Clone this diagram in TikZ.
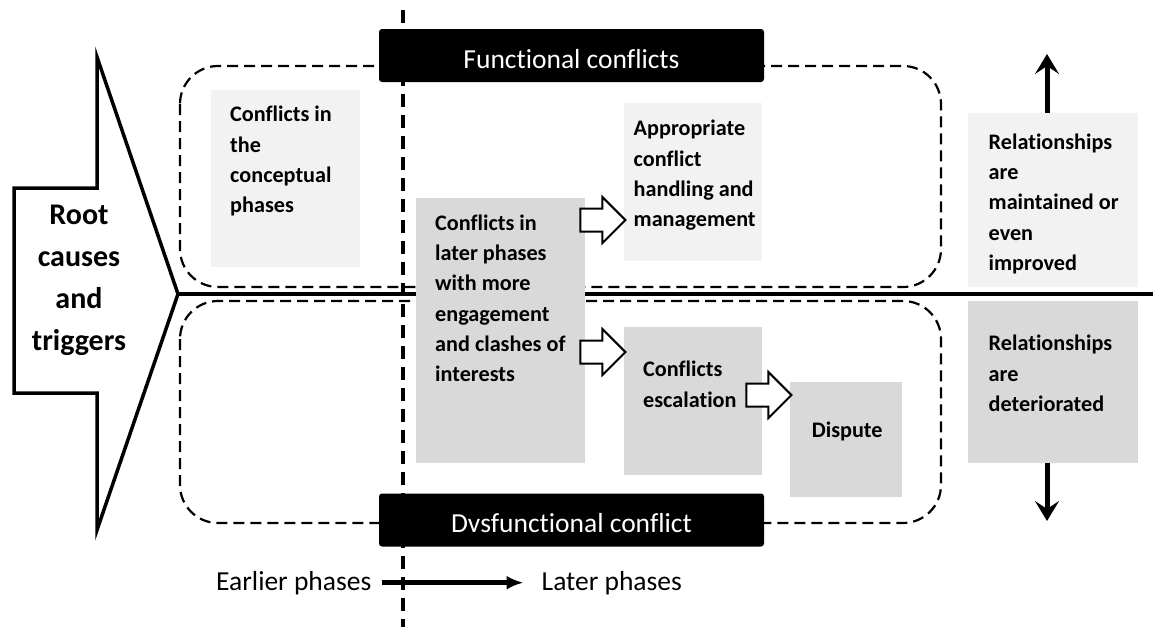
\documentclass[tikz,border=0pt]{standalone}
\usepackage{fontspec}
\setmainfont{Carlito}[Ligatures=NoCommon]
\usetikzlibrary{arrows.meta,calc}

\definecolor{boxlight}{HTML}{F2F2F2}
\definecolor{boxdark}{HTML}{D9D9D9}

\tikzset{
  box/.style={inner sep=0pt, anchor=north west},
  lightbox/.style={box, fill=boxlight},
  darkbox/.style={box, fill=boxdark},
  boxtext/.style={inner sep=0pt, anchor=north west, align=left,
    font=\fontsize{22.2}{30.3}\selectfont\bfseries},
  titlebox/.style={fill=black, rounded corners=3pt, text=white, inner sep=0pt,
    minimum width=385pt, minimum height=53pt, text height=25pt, text depth=0pt,
    font=\fontsize{27.5}{30}\selectfont},
  zone/.style={dash pattern=on 11pt off 6pt, line width=2.2pt, rounded corners=38pt},
  divider/.style={dash pattern=on 13pt off 8pt, line width=4pt},
  vertarrow/.style={line width=5pt, -{Stealth[length=20pt,width=24pt,inset=8pt]}},
  phase/.style={inner sep=0pt, anchor=base west, font=\fontsize{27.5}{30}\selectfont},
  pics/fatarrow/.style={code={
    \draw[line width=2pt, fill=white] (0,-11.5) -- (22,-11.5) -- (22,-23)
      -- (45,0) -- (22,23) -- (22,11.5) -- (0,11.5) -- cycle;}}
}

\begin{document}
\begin{tikzpicture}[x=1pt, y=-1pt]
  \useasboundingbox (0,0) rectangle (1153,627);

  % dashed zones and the two axes
  \draw[zone] (180,66) rectangle (941,287);
  \draw[zone] (180,301) rectangle (941,523);
  \draw[divider] (403,10) -- (403,627);
  \coordinate (tip) at (178,294);
  \coordinate (rightend) at (1153,294);
  \draw[line width=3.5pt] (tip) -- (rightend);

  % root causes arrow
  \draw[line width=3.5pt, fill=white] (14,188) -- (97,188) -- (97,57) -- (tip)
    -- (97,530) -- (97,393) -- (14,393) -- cycle;
  \node[inner sep=0pt, anchor=north, align=center, font=\fontsize{30}{42}\selectfont\bfseries]
    (root) at (79,205) {Root\\causes\\and\\triggers};

  % boxes
  \node[lightbox, minimum width=149pt, minimum height=177pt] (concept) at (211,90) {};
  \node[boxtext] at ($(concept.north west)+(19,16)$) {Conflicts in\\the\\conceptual\\phases};

  \node[darkbox, minimum width=169pt, minimum height=265pt] (later) at (416,198) {};
  \node[boxtext] at ($(later.north west)+(19,16.5)$) {Conflicts in\\later phases\\with more\\engagement\\and clashes of\\interests};

  \node[lightbox, minimum width=138pt, minimum height=158pt] (appr) at (624,103) {};
  \node[boxtext] at ($(appr.north west)+(9.5,17)$) {Appropriate\\conflict\\handling and\\management};

  \node[darkbox, minimum width=138pt, minimum height=148pt] (escal) at (624,327) {};
  \node[boxtext] at ($(escal.north west)+(19,34)$) {Conflicts\\escalation};

  \node[darkbox, minimum width=112pt, minimum height=115pt] (dispute) at (790,381.5) {};
  \node[boxtext, anchor=north] at ($(dispute.north)+(1,40)$) {Dispute};

  \node[lightbox, minimum width=170pt, minimum height=174pt] (relup) at (968,113) {};
  \node[boxtext] at ($(relup.north west)+(20.5,20.5)$) {Relationships\\are\\maintained or\\even\\improved};

  \node[darkbox, minimum width=170pt, minimum height=162pt] (reldown) at (968,301) {};
  \node[boxtext] at ($(reldown.north west)+(20.5,34)$) {Relationships\\are\\deteriorated};

  % block arrows
  \pic (ar1) at ($(later.north east)+(-5,22)$) {fatarrow};
  \pic (ar2) at ($(later.north east)+(-5,154)$) {fatarrow};
  \pic (ar3) at ($(escal.north east)+(-16,68)$) {fatarrow};

  % titles
  \node[titlebox] (func) at (571.5,55.5) {Functional conflicts};
  \node[titlebox] (dysfunc) at (571.5,520) {Dvsfunctional conflict};

  % relationships up / down
  \coordinate (upend) at (1047,54);
  \coordinate (downend) at (1047,521);
  \draw[vertarrow] (upend |- relup.north) -- (upend);
  \draw[vertarrow] (downend |- reldown.south) -- (downend);

  % time axis
  \node[phase] (earlier) at (216,590) {Earlier phases};
  \node[phase] (laterph) at (541.5,590) {Later phases};
  \draw[line width=4.5pt, -{Latex[length=17pt,width=14pt]}, shorten <=10pt, shorten >=18pt]
    (earlier.east) -- (laterph.west);
\end{tikzpicture}
\end{document}
